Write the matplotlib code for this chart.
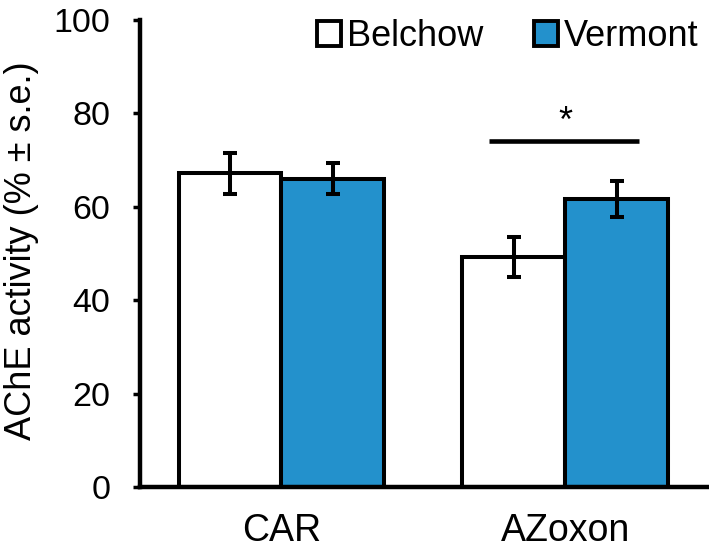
import matplotlib
matplotlib.use("Agg")
import matplotlib.pyplot as plt
from matplotlib.patches import Patch
import numpy as np

plt.rcParams['font.family'] = ['Liberation Sans', 'DejaVu Sans']

categories = ["CAR", "AZoxon"]
series_names = ["Belchow", "Vermont"]
belchow = [67.2, 49.2]
belchow_err = [4.4, 4.3]
vermont = [66.0, 61.6]
vermont_err = [3.3, 3.9]
sig_line_y = 74.0
sig_star_y = 78.0
yticks = [0, 20, 40, 60, 80, 100]

blue = "#2391CC"

fig = plt.figure(figsize=(7.09, 5.54), dpi=100)
ax = fig.add_axes([0.197, 0.121, 0.80, 0.843])

x = np.arange(len(categories))
w = 0.363
lw = 2.9
ekw = dict(ecolor="black", elinewidth=2.9, capsize=5.3, capthick=2.9)
ax.bar(x - w / 2, belchow, w, color="white", edgecolor="black", linewidth=lw,
       yerr=belchow_err, error_kw=ekw, zorder=2)
ax.bar(x + w / 2, vermont, w, color=blue, edgecolor="black", linewidth=lw,
       yerr=vermont_err, error_kw=ekw, zorder=2)

# significance
ax.plot([1 - 0.27, 1 + 0.26], [sig_line_y, sig_line_y], color="black", lw=3.3,
        solid_capstyle="butt")
ax.text(1.0, sig_star_y, "*", ha="center", va="center", fontsize=26)

ax.set_xlim(-0.5, 1.5)
ax.set_ylim(0, 100)
ax.set_yticks(yticks)
ax.set_xticks(x)
ax.set_xticklabels(categories, fontsize=27)
ax.tick_params(axis="x", length=0, pad=19)
ax.tick_params(axis="y", direction="out", length=5, width=2.5, labelsize=24.5, pad=16)
for s in ["top", "right"]:
    ax.spines[s].set_visible(False)
for s in ["left", "bottom"]:
    ax.spines[s].set_linewidth(3.2)
fig.text(22 / 709, 1 - 251 / 554, "AChE activity (% ± s.e.)", rotation=90,
         ha="center", va="center", fontsize=26)

handles = [Patch(facecolor="white", edgecolor="black", linewidth=2.8),
           Patch(facecolor=blue, edgecolor="black", linewidth=2.8)]
fig.legend(handles, series_names, loc="upper right", frameon=False, fontsize=26,
           ncol=2, handlelength=0.67, handleheight=0.67, handletextpad=0.15,
           columnspacing=1.4, bbox_to_anchor=(698 / 709, 1 - 19 / 554),
           borderaxespad=0.0, borderpad=0.0)

fig.savefig("out.png", dpi=100)
